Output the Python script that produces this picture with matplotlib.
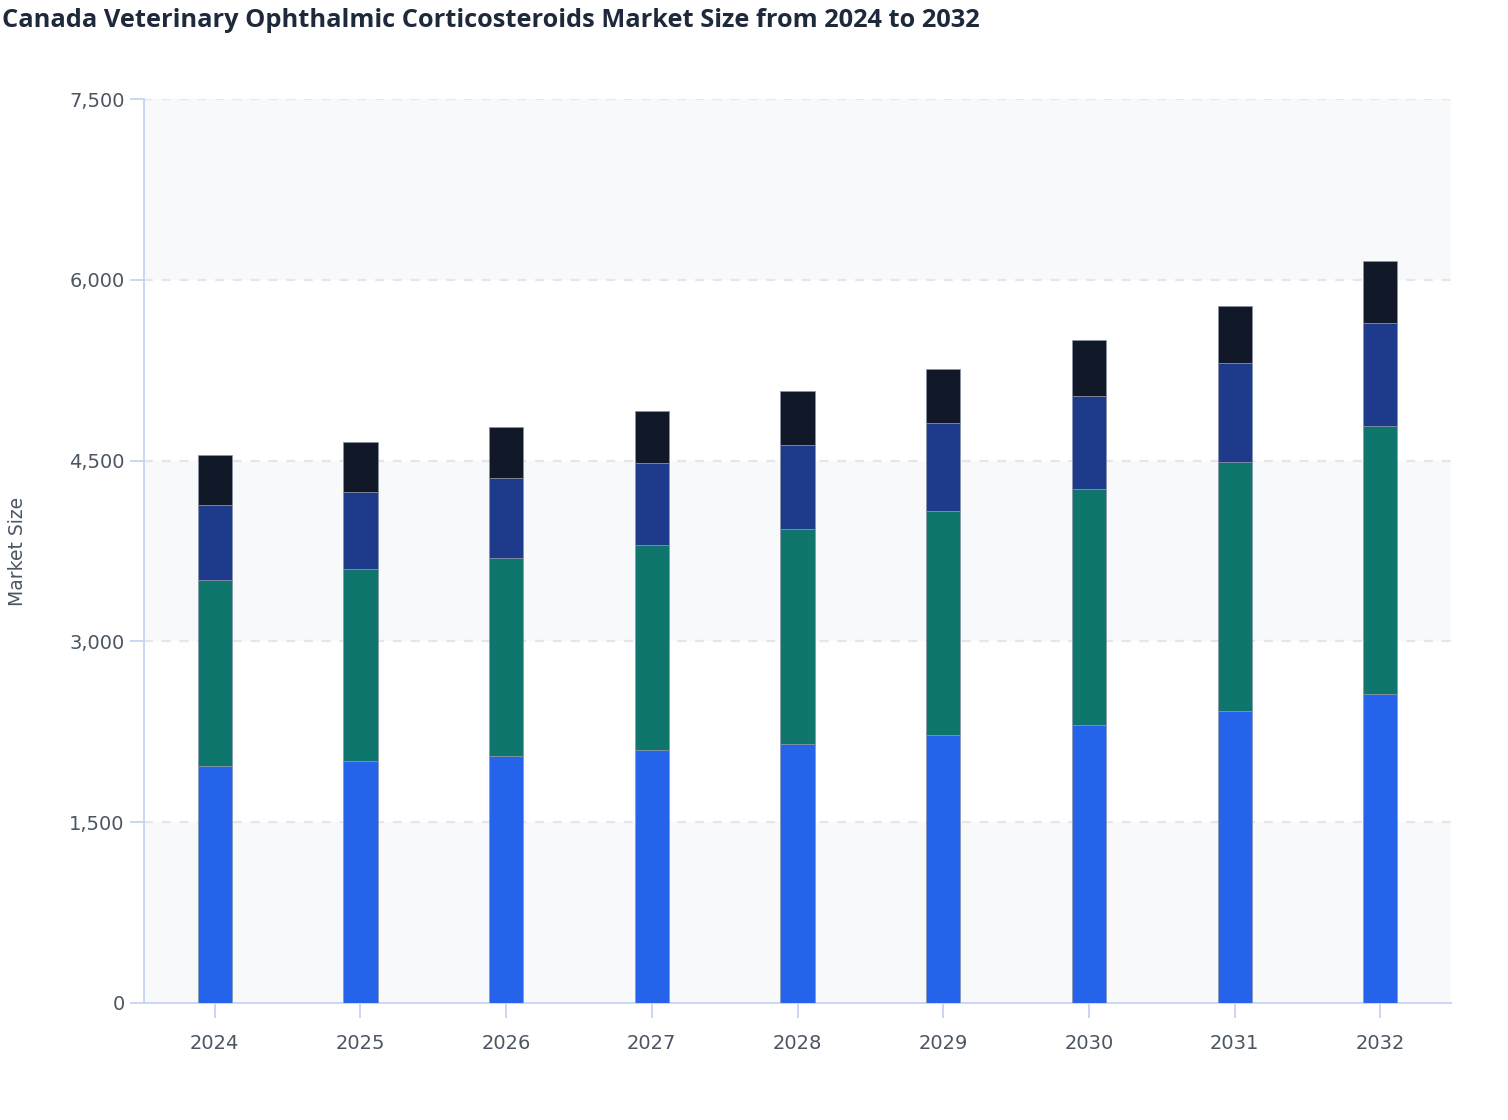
import matplotlib.pyplot as plt
import numpy as np

years = ['2024', '2025', '2026', '2027', '2028', '2029', '2030', '2031', '2032']
seg_blue = [1964, 2005, 2047, 2097, 2151, 2221, 2306, 2420, 2561]
seg_green = [1543, 1593, 1645, 1703, 1779, 1858, 1956, 2071, 2226]
seg_navy = [622, 639, 661, 680, 699, 730, 771, 816, 855]
seg_black = [417, 417, 426, 432, 446, 454, 465, 476, 514]
y_ticks = [0, 1500, 3000, 4500, 6000, 7500]

colors = ['#2563eb', '#0f766e', '#1e3a8a', '#111827']
axis_col = '#c7d2f4'
text_col = '#4b5563'

fig = plt.figure(figsize=(15.08, 11.2), dpi=100)
ax = fig.add_axes([0.0955, 0.1045, 0.8667, 0.807])

# alternating background bands
for i in range(len(y_ticks) - 1):
    if i % 2 == 0:
        ax.axhspan(y_ticks[i], y_ticks[i + 1], color='#f8f9fb', zorder=0, lw=0)

for t in y_ticks[1:]:
    ax.axhline(t, color='#e4e6ec', lw=1.6, ls=(0, (4, 4)), zorder=1)

x = np.arange(len(years))
bottom = np.zeros(len(years))
for seg, c in zip([seg_blue, seg_green, seg_navy, seg_black], colors):
    ax.bar(x, seg, width=0.235, bottom=bottom, color=c, edgecolor='#8b95a8',
           linewidth=0.5, zorder=3)
    bottom += np.array(seg)

ax.set_xlim(-0.485, len(years) - 0.515)
ax.set_ylim(0, 7500)
ax.set_yticks(y_ticks)
ax.set_yticklabels([f'{v:,}' for v in y_ticks])
ax.set_xticks(x)
ax.set_xticklabels(years)

for s in ['top', 'right']:
    ax.spines[s].set_visible(False)
for s in ['left', 'bottom']:
    ax.spines[s].set_color(axis_col)
    ax.spines[s].set_linewidth(1.3)

ax.tick_params(axis='y', length=10, width=1.3, color=axis_col, labelcolor=text_col,
               labelsize=14, pad=4)
ax.tick_params(axis='x', length=11, width=1.3, color=axis_col, labelcolor=text_col,
               labelsize=14, pad=11)

ax.set_ylabel('Market Size', fontsize=13.5, color=text_col, labelpad=30)

fig.text(0.001, 0.993, 'Canada Veterinary Ophthalmic Corticosteroids Market Size from 2024 to 2032',
         fontsize=18.3, fontweight='bold', color='#1e293b', family=['Open Sans', 'DejaVu Sans'],
         ha='left', va='top')

fig.savefig('out.png', dpi=100, facecolor='white')
